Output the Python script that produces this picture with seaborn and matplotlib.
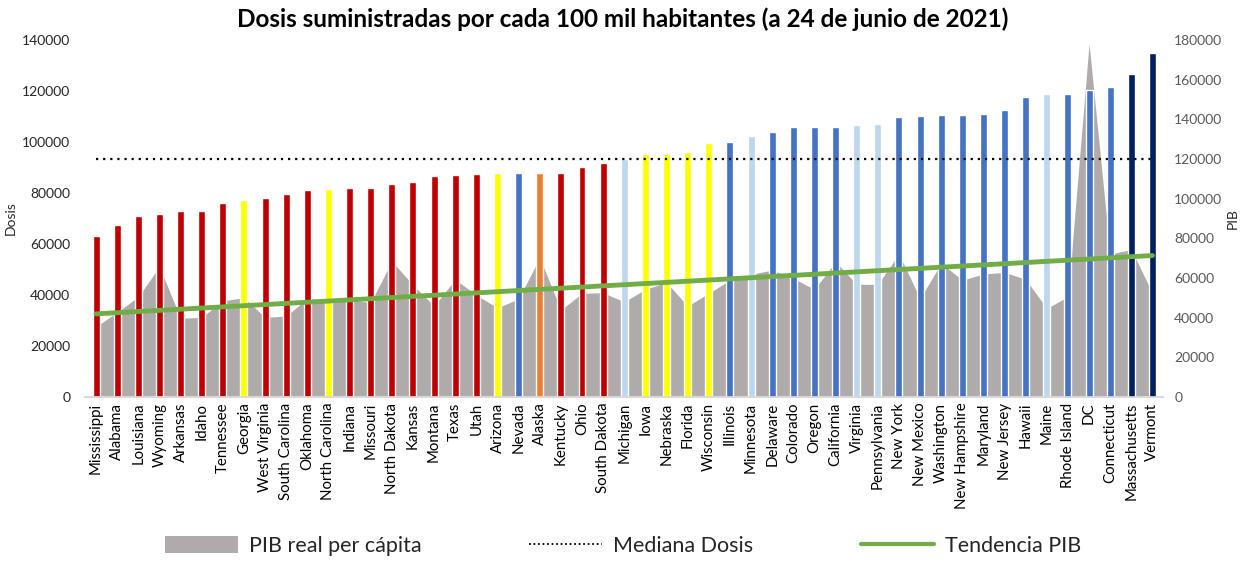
import numpy as np
import pandas as pd
import matplotlib
matplotlib.use("Agg")
import matplotlib.pyplot as plt
from matplotlib.patches import Patch
from matplotlib.lines import Line2D
import seaborn as sns

states = ["Mississippi", "Alabama", "Louisiana", "Wyoming", "Arkansas", "Idaho", "Tennessee",
          "Georgia", "West Virginia", "South Carolina", "Oklahoma", "North Carolina", "Indiana",
          "Missouri", "North Dakota", "Kansas", "Montana", "Texas", "Utah", "Arizona", "Nevada",
          "Alaska", "Kentucky", "Ohio", "South Dakota", "Michigan", "Iowa", "Nebraska", "Florida",
          "Wisconsin", "Illinois", "Minnesota", "Delaware", "Colorado", "Oregon", "California",
          "Virginia", "Pennsylvania", "New York", "New Mexico", "Washington", "New Hampshire",
          "Maryland", "New Jersey", "Hawaii", "Maine", "Rhode Island", "DC", "Connecticut",
          "Massachusetts", "Vermont"]

doses = [63000, 67400, 70900, 71800, 72900, 72900, 76000, 77300, 78000, 79600, 81100, 81500,
         81900, 81900, 83500, 84300, 86700, 87000, 87400, 87800, 87800, 87800, 87800, 90200,
         91700, 93200, 95200, 95200, 96000, 99500, 100000, 102300, 104100, 105700, 105700,
         105800, 106600, 107000, 110000, 110200, 110400, 110400, 111100, 112500, 117800,
         118800, 118800, 120200, 121700, 126800, 134900]

gdp = [35500, 42700, 50600, 65700, 39700, 40200, 48500, 50100, 40200, 40800, 49700, 48900,
       49000, 47600, 68500, 56500, 45900, 59300, 51400, 45000, 49500, 70300, 43900, 52300,
       52600, 48000, 54300, 57800, 45900, 52300, 59000, 61900, 64000, 59800, 54300, 68200,
       56800, 56800, 72100, 49700, 67400, 59000, 62000, 62900, 59300, 44700, 50600, 178000,
       72100, 74400, 52300]

group = ["R", "R", "R", "R", "R", "R", "R", "Y", "R", "R", "R", "Y", "R", "R", "R", "R", "R",
         "R", "R", "Y", "B", "O", "R", "R", "R", "L", "Y", "Y", "Y", "Y", "B", "L", "B", "B",
         "B", "B", "L", "L", "B", "B", "B", "B", "B", "B", "B", "L", "B", "B", "B", "N", "N"]

group_colors = {"R": "#C00000", "Y": "#FFFF00", "B": "#4472C4", "L": "#BDD7EE",
                "O": "#ED7D31", "N": "#002060"}

left_ticks = [0, 20000, 40000, 60000, 80000, 100000, 120000, 140000]
right_ticks = [0, 20000, 40000, 60000, 80000, 100000, 120000, 140000, 160000, 180000]

title = "Dosis suministradas por cada 100 mil habitantes (a 24 de junio de 2021)"

sns.set_theme(style="white")
plt.rcParams["font.family"] = ["Lato", "DejaVu Sans"]

df = pd.DataFrame({"state": states, "dosis": doses, "pib": gdp, "grupo": group})
idx = np.arange(len(states))

fig = plt.figure(figsize=(12.46, 5.61), dpi=100)
ax = fig.add_axes([0.0686, 0.2923, 0.8648, 0.6364])
ax2 = ax.twinx()
ax.set_zorder(ax2.get_zorder() + 1)
ax.patch.set_visible(False)

# Area (GDP) on the secondary axis, behind the bars
ax2.fill_between(idx, 0, df["pib"], color="#AFABAB", linewidth=0)
ax2.set_ylim(0, 180000)
ax2.set_yticks(right_ticks)
ax2.set_yticklabels([str(t) for t in right_ticks], fontsize=10, color="#595959")
ax2.set_ylabel("PIB", fontsize=10, color="#262626", labelpad=3)
ax2.tick_params(axis="y", length=0, pad=8)

# Bars
palette = [group_colors[g] for g in group]
sns.barplot(data=df, x="state", y="dosis", hue="state", palette=palette, legend=False,
            width=0.33, saturation=1, ax=ax, zorder=2)

# Median line
med = float(np.median(df["dosis"]))
ax.hlines(med, idx[0], idx[-1], colors="#000000", linestyles=(0, (1, 2.2)), linewidth=1.6,
          zorder=4)

# GDP trend (linear fit) drawn in secondary-axis units
coef = np.polyfit(idx, df["pib"], 1)
trend = np.polyval(coef, idx)
sns.lineplot(x=idx, y=trend, color="#70AD47", linewidth=3.5, ax=ax,
             transform=ax2.transData, zorder=5)

ax.set_xlim(-0.5, len(states) - 0.5)
ax2.set_xlim(-0.5, len(states) - 0.5)
ax.set_ylim(0, 140000)
ax.set_yticks(left_ticks)
ax.set_yticklabels([str(t) for t in left_ticks], fontsize=10, color="#262626")
ax.tick_params(axis="y", length=0, pad=11)
ax.set_ylabel("Dosis", fontsize=10, color="#262626", labelpad=4)
ax.set_xlabel("")
ax.set_xticks(idx)
ax.set_xticklabels(states, rotation=90, fontsize=10.8, color="#000000")
ax.tick_params(axis="x", length=0, pad=4)

for a in (ax, ax2):
    for s in ("top", "left", "right"):
        a.spines[s].set_visible(False)
    a.spines["bottom"].set_color("#D9D9D9")
    a.spines["bottom"].set_linewidth(1.2)
    a.grid(False)

fig.text(0.5, 0.965, title, ha="center", va="center", fontsize=17.5, fontweight="bold",
         color="#000000")

handles = [Patch(facecolor="#AFABAB", edgecolor="none"),
           Line2D([0], [0], color="#000000", linestyle=(0, (1, 1.5)), linewidth=1.3),
           Line2D([0], [0], color="#70AD47", linewidth=3)]
labels = ["PIB real per cápita", "Mediana Dosis", "Tendencia PIB"]
fig.legend(handles, labels, loc="center", bbox_to_anchor=(0.5, 0.027), ncol=3,
           frameon=False, fontsize=15.5, handlelength=3.4, handleheight=0.8,
           handletextpad=0.5, columnspacing=5.0)

fig.savefig("out.png", dpi=100)
